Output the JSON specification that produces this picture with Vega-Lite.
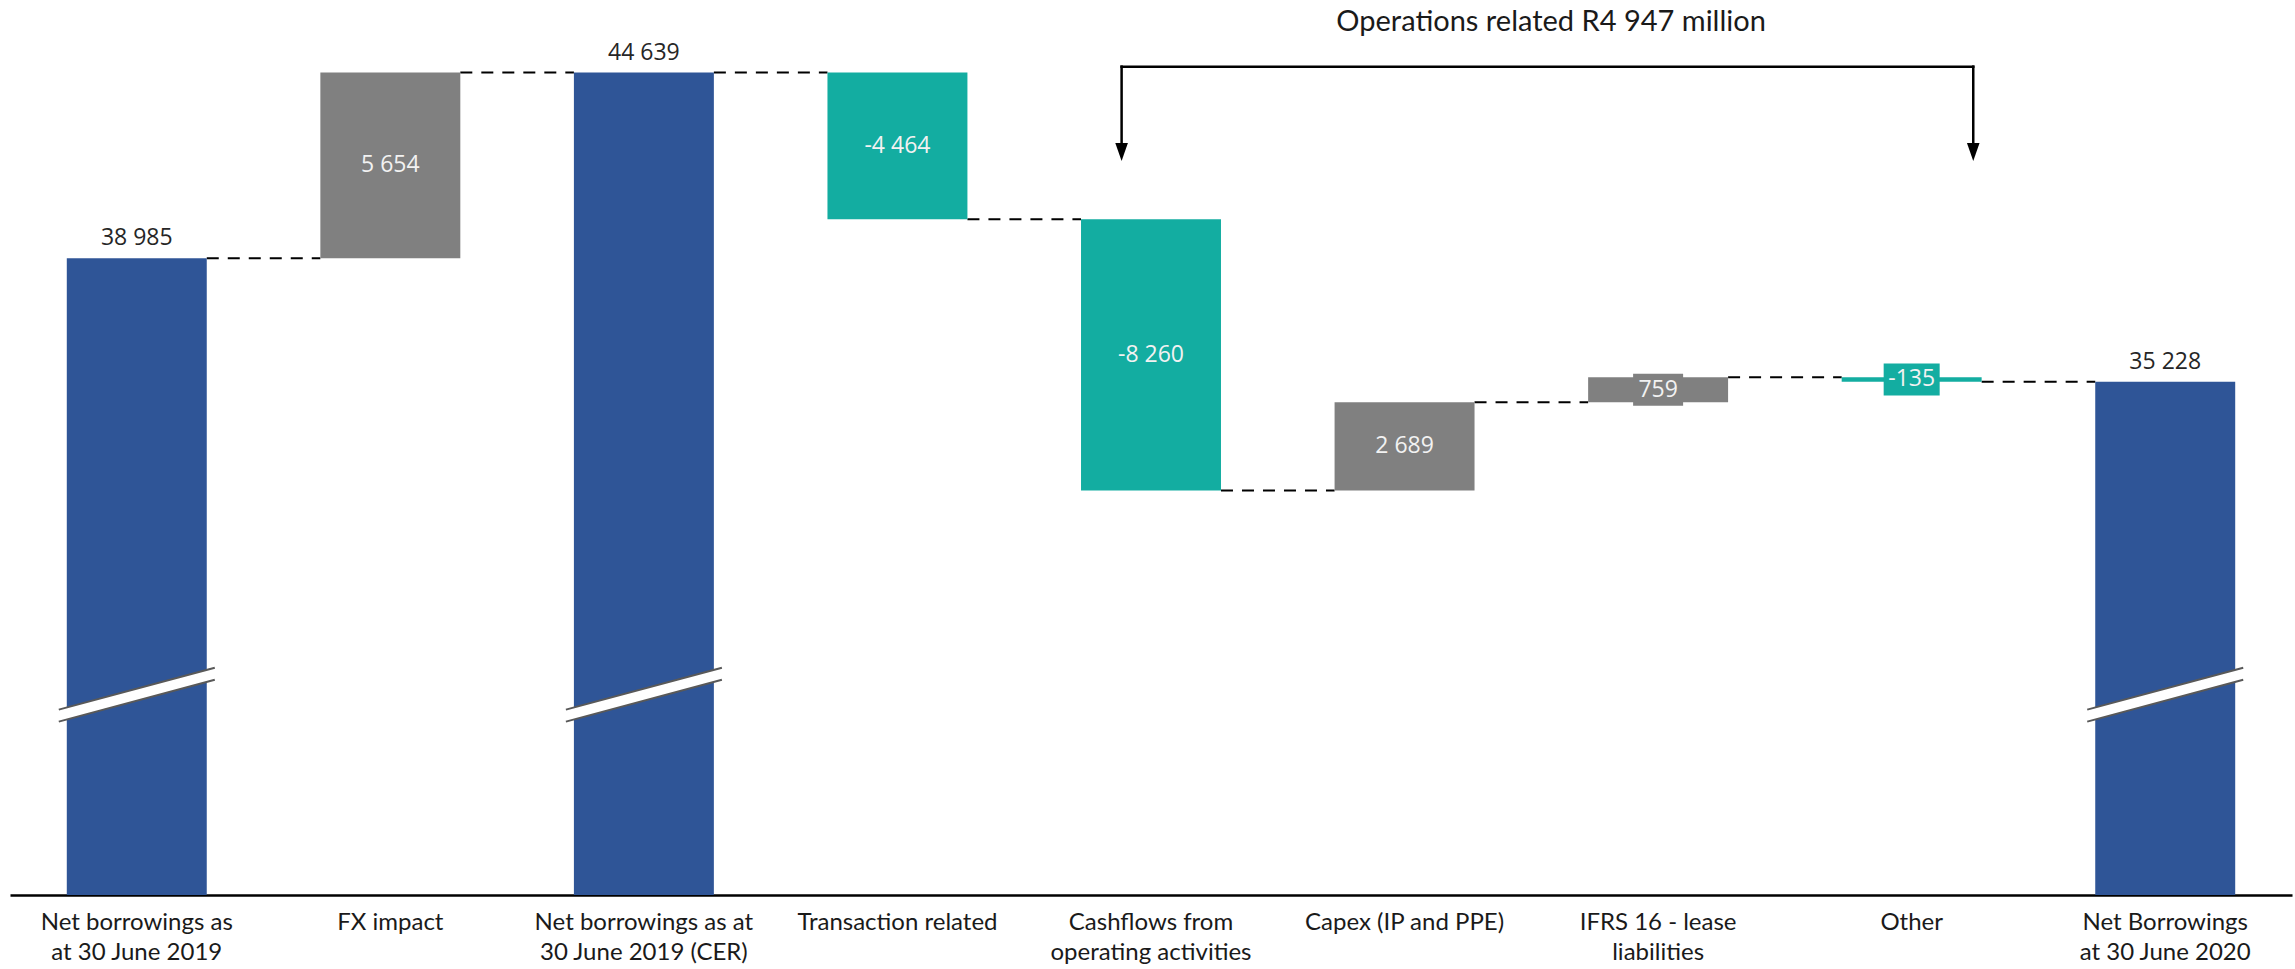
{
  "$schema": "https://vega.github.io/schema/vega-lite/v6.json",
  "width": 2282,
  "height": 895,
  "autosize": {"type": "none"},
  "padding": {"left": 10, "top": 0, "right": 3, "bottom": 74},
  "background": "white",
  "config": {"view": {"stroke": null}},
  "datasets": {
    "steps": [
      {"cat": "Net borrowings as|at 30 June 2019", "next": "FX impact", "start": 19600, "end": 38985, "type": "total", "label": "38 985"},
      {"cat": "FX impact", "next": "Net borrowings as at|30 June 2019 (CER)", "start": 38985, "end": 44639, "type": "inc", "label": "5 654"},
      {"cat": "Net borrowings as at|30 June 2019 (CER)", "next": "Transaction related", "start": 19600, "end": 44639, "type": "total", "label": "44 639"},
      {"cat": "Transaction related", "next": "Cashflows from|operating activities", "start": 44639, "end": 40175, "type": "dec", "label": "-4 464"},
      {"cat": "Cashflows from|operating activities", "next": "Capex (IP and PPE)", "start": 40175, "end": 31915, "type": "dec", "label": "-8 260"},
      {"cat": "Capex (IP and PPE)", "next": "IFRS 16 - lease|liabilities", "start": 31915, "end": 34604, "type": "inc", "label": "2 689"},
      {"cat": "IFRS 16 - lease|liabilities", "next": "Other", "start": 34604, "end": 35363, "type": "inc", "label": "759"},
      {"cat": "Other", "next": "Net Borrowings|at 30 June 2020", "start": 35363, "end": 35228, "type": "dec", "label": "-135"},
      {"cat": "Net Borrowings|at 30 June 2020", "next": null, "start": 19600, "end": 35228, "type": "total", "label": "35 228"}
    ],
    "breaks": [
      {"cat": "Net borrowings as|at 30 June 2019", "y": 25700},
      {"cat": "Net borrowings as at|30 June 2019 (CER)", "y": 25700},
      {"cat": "Net Borrowings|at 30 June 2020", "y": 25700}
    ],
    "bracket": [
      {"from": "Cashflows from|operating activities", "to": "Other", "top": 44820, "bottom": 42300, "tip": 42220}
    ],
    "notes": [
      {"cat": "IFRS 16 - lease|liabilities", "y": 46180, "text": "Operations related R4 947 million"}
    ]
  },
  "layer": [
    {
      "data": {"name": "steps"},
      "transform": [{"filter": "datum.next != null"}],
      "mark": {"type": "rule", "strokeDash": [12, 9], "strokeWidth": 2, "color": "#000000"},
      "encoding": {
        "x": {
          "field": "cat", "type": "nominal", "bandPosition": 1, "title": null,
          "scale": {
            "domain": ["Net borrowings as|at 30 June 2019", "FX impact", "Net borrowings as at|30 June 2019 (CER)", "Transaction related", "Cashflows from|operating activities", "Capex (IP and PPE)", "IFRS 16 - lease|liabilities", "Other", "Net Borrowings|at 30 June 2020"],
            "paddingInner": 0.448, "paddingOuter": 0.224
          },
          "axis": {
            "labelExpr": "split(datum.label, '|')",
            "labelFont": "Lato", "labelFontSize": 24, "labelColor": "#1a1a1a",
            "labelLineHeight": 30, "labelBaseline": "top", "labelPadding": 15,
            "labelAngle": 0, "labelLimit": 400, "labelOverlap": false,
            "ticks": false, "tickSize": 0, "grid": false,
            "domainColor": "#000000", "domainWidth": 2.5
          }
        },
        "x2": {"field": "next", "bandPosition": 0},
        "y": {"field": "end", "type": "quantitative", "scale": {"domain": [19600, 46850], "nice": false, "zero": false}, "axis": null}
      }
    },
    {
      "data": {"name": "steps"},
      "mark": {"type": "bar"},
      "encoding": {
        "x": {"field": "cat", "type": "nominal", "title": null},
        "y": {"field": "start", "type": "quantitative", "scale": {"domain": [19600, 46850], "nice": false, "zero": false}, "axis": null},
        "y2": {"field": "end"},
        "color": {"field": "type", "type": "nominal", "scale": {"domain": ["total", "inc", "dec"], "range": ["#2F5597", "#808080", "#13ADA1"]}, "legend": null}
      }
    },
    {
      "data": {"name": "breaks"},
      "mark": {"type": "point", "shape": "M-1,0.192L1,-0.346L1,-0.192L-1,0.346Z", "size": 24336, "filled": true, "fill": "#ffffff", "strokeWidth": 0, "opacity": 1},
      "encoding": {
        "x": {"field": "cat", "type": "nominal", "title": null},
        "y": {"field": "y", "type": "quantitative", "axis": null}
      }
    },
    {
      "data": {"name": "breaks"},
      "mark": {"type": "point", "shape": "M-1,0.192L1,-0.346M-1,0.346L1,-0.192", "size": 24336, "filled": false, "stroke": "#595959", "strokeWidth": 2, "opacity": 1},
      "encoding": {
        "x": {"field": "cat", "type": "nominal", "title": null},
        "y": {"field": "y", "type": "quantitative", "axis": null}
      }
    },
    {
      "data": {"name": "steps"},
      "transform": [{"filter": "datum.cat == 'IFRS 16 - lease|liabilities'"}, {"fold": ["start", "end"], "as": ["k", "v"]}],
      "mark": {"type": "point", "shape": "M-0.893,-0.571L0.893,-0.571L0.893,0.571L-0.893,0.571Z", "size": 3136, "filled": true, "fill": "#808080", "strokeWidth": 0, "opacity": 1},
      "encoding": {
        "x": {"field": "cat", "type": "nominal", "title": null},
        "y": {"aggregate": "mean", "field": "v", "type": "quantitative", "axis": null}
      }
    },
    {
      "data": {"name": "steps"},
      "transform": [{"filter": "datum.cat == 'Other'"}, {"fold": ["start", "end"], "as": ["k", "v"]}],
      "mark": {"type": "point", "shape": "M-1,-0.571L1,-0.571L1,0.571L-1,0.571Z", "size": 3136, "filled": true, "fill": "#13ADA1", "strokeWidth": 0, "opacity": 1},
      "encoding": {
        "x": {"field": "cat", "type": "nominal", "title": null},
        "y": {"aggregate": "mean", "field": "v", "type": "quantitative", "axis": null}
      }
    },
    {
      "data": {"name": "steps"},
      "transform": [{"filter": "datum.type != 'total'"}, {"fold": ["start", "end"], "as": ["k", "v"]}],
      "mark": {"type": "text", "font": "Open Sans", "fontSize": 23, "color": "#F2F2F2", "align": "center", "baseline": "middle"},
      "encoding": {
        "x": {"field": "cat", "type": "nominal", "title": null},
        "y": {"aggregate": "mean", "field": "v", "type": "quantitative", "axis": null},
        "text": {"field": "label", "type": "nominal"}
      }
    },
    {
      "data": {"name": "steps"},
      "transform": [{"filter": "datum.type == 'total'"}],
      "mark": {"type": "text", "font": "Open Sans", "fontSize": 23, "color": "#262626", "align": "center", "baseline": "alphabetic", "dy": -13},
      "encoding": {
        "x": {"field": "cat", "type": "nominal", "title": null},
        "y": {"field": "end", "type": "quantitative", "axis": null},
        "text": {"field": "label", "type": "nominal"}
      }
    },
    {
      "data": {"name": "bracket"},
      "mark": {"type": "rule", "color": "#000000", "strokeWidth": 2.5, "strokeCap": "square"},
      "encoding": {
        "x": {"field": "from", "type": "nominal", "bandPosition": 0.29, "title": null},
        "y": {"field": "top", "type": "quantitative", "axis": null},
        "y2": {"field": "bottom"}
      }
    },
    {
      "data": {"name": "bracket"},
      "mark": {"type": "rule", "color": "#000000", "strokeWidth": 2.5, "strokeCap": "square"},
      "encoding": {
        "x": {"field": "to", "type": "nominal", "bandPosition": 0.94, "title": null},
        "y": {"field": "top", "type": "quantitative", "axis": null},
        "y2": {"field": "bottom"}
      }
    },
    {
      "data": {"name": "bracket"},
      "mark": {"type": "rule", "color": "#000000", "strokeWidth": 2.5, "strokeCap": "square"},
      "encoding": {
        "x": {"field": "from", "type": "nominal", "bandPosition": 0.29, "title": null},
        "x2": {"field": "to", "bandPosition": 0.94},
        "y": {"field": "top", "type": "quantitative", "axis": null}
      }
    },
    {
      "data": {"name": "bracket"},
      "mark": {"type": "point", "shape": "M-0.7,-1L0.7,-1L0,1Z", "size": 324, "filled": true, "fill": "#000000", "strokeWidth": 0, "opacity": 1},
      "encoding": {
        "x": {"field": "from", "type": "nominal", "bandPosition": 0.29, "title": null},
        "y": {"field": "tip", "type": "quantitative", "axis": null}
      }
    },
    {
      "data": {"name": "bracket"},
      "mark": {"type": "point", "shape": "M-0.7,-1L0.7,-1L0,1Z", "size": 324, "filled": true, "fill": "#000000", "strokeWidth": 0, "opacity": 1},
      "encoding": {
        "x": {"field": "to", "type": "nominal", "bandPosition": 0.94, "title": null},
        "y": {"field": "tip", "type": "quantitative", "axis": null}
      }
    },
    {
      "data": {"name": "notes"},
      "mark": {"type": "text", "font": "Lato", "fontSize": 29, "color": "#1a1a1a", "align": "center", "baseline": "middle", "dx": -107},
      "encoding": {
        "x": {"field": "cat", "type": "nominal", "title": null},
        "y": {"field": "y", "type": "quantitative", "axis": null},
        "text": {"field": "text", "type": "nominal"}
      }
    }
  ]
}
